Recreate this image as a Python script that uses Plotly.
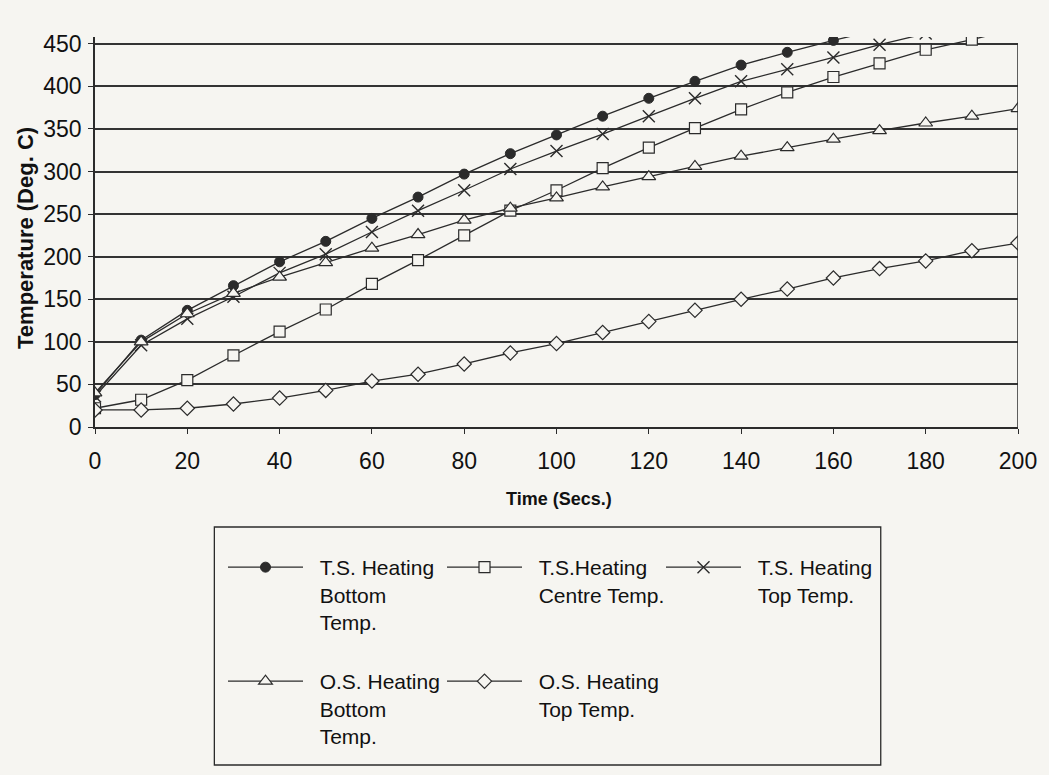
import plotly.graph_objects as go

# Time axis (seconds) and measured temperatures (Deg. C)
time_s = [0, 10, 20, 30, 40, 50, 60, 70, 80, 90, 100,
          110, 120, 130, 140, 150, 160, 170, 180, 190, 200]

ts_bottom = [38, 102, 137, 166, 194, 218, 245, 270, 297, 321, 343,
             365, 386, 406, 425, 440, 454, 467]
ts_centre = [22, 32, 55, 84, 112, 138, 168, 196, 225, 254, 278,
             304, 328, 351, 373, 393, 411, 427, 443, 455, 468]
ts_top = [36, 96, 127, 153, 181, 203, 229, 254, 278, 303, 324,
          344, 365, 386, 406, 420, 434, 449, 462]
os_bottom = [40, 100, 133, 157, 176, 193, 210, 226, 243, 257, 269,
             282, 294, 306, 318, 328, 338, 348, 357, 365, 374]
os_top = [20, 20, 22, 27, 34, 43, 54, 62, 74, 87, 98,
          111, 124, 137, 150, 162, 175, 186, 195, 207, 216]

series_names = [
    ["T.S. Heating", "Bottom", "Temp."],
    ["T.S.Heating", "Centre Temp."],
    ["T.S. Heating", "Top Temp."],
    ["O.S. Heating", "Bottom", "Temp."],
    ["O.S. Heating", "Top Temp."],
]

x_ticks = list(range(0, 201, 20))
y_ticks = list(range(0, 451, 50))

INK = "#2b2b2b"
PAPER = "#f6f5f1"
FONT = "Liberation Sans, Arial, sans-serif"

fig = go.Figure()

styles = [
    (ts_bottom, dict(symbol="circle", size=10, color=INK, line=dict(color=INK, width=1)), "legend"),
    (ts_centre, dict(symbol="square", size=11, color=PAPER, line=dict(color=INK, width=1.2)), "legend"),
    (ts_top, dict(symbol="x-thin-open", size=12, color=INK, line=dict(color=INK, width=1.4)), "legend"),
    (os_bottom, dict(symbol="triangle-up", size=12, color=PAPER, line=dict(color=INK, width=1.2)), "legend2"),
    (os_top, dict(symbol="diamond", size=11, color=PAPER, line=dict(color=INK, width=1.2)), "legend2"),
]

# a small indent separates each legend label from its line sample
INDENT = "\u00a0\u00a0"

for (vals, marker, lg), lines in zip(styles, series_names):
    fig.add_trace(go.Scatter(
        x=time_s[:len(vals)], y=vals,
        name="<br>".join(INDENT + s for s in lines),
        mode="lines+markers",
        line=dict(color=INK, width=1.3), marker=marker, legend=lg,
    ))

# right-hand border of the plot area
fig.add_shape(type="line", xref="x", yref="y", x0=200, x1=200, y0=0, y1=450,
              line=dict(color=INK, width=1.5), layer="above")

# legend frame
fig.add_shape(type="rect", xref="paper", yref="paper",
              x0=(215 - 95) / 928, x1=(885 - 95) / 928,
              y0=(427 - 765) / 390, y1=(427 - 527) / 390,
              line=dict(color=INK, width=1.3), fillcolor="rgba(0,0,0,0)")

fig.add_annotation(text="<b>Temperature (Deg. C)</b>", textangle=-90,
                   xref="paper", yref="paper", x=(11 - 95) / 928, y=(427 - 238) / 390,
                   showarrow=False, font=dict(family=FONT, size=22, color="#111"))
fig.add_annotation(text="<b>Time (Secs.)</b>",
                   xref="paper", yref="paper", x=(562 - 95) / 928, y=(427 - 511) / 390,
                   showarrow=False, font=dict(family=FONT, size=18, color="#111"))

legend_common = dict(
    orientation="h", xref="container", yref="container", xanchor="left", yanchor="top",
    bgcolor="rgba(0,0,0,0)", borderwidth=0, itemwidth=75, valign="top",
    entrywidth=129, entrywidthmode="pixels", itemclick=False, itemdoubleclick=False,
    font=dict(family=FONT, size=21, color="#111"), tracegroupgap=0,
)

fig.update_layout(
    width=1049, height=775,
    margin=dict(l=95, r=26, t=37, b=348),
    paper_bgcolor=PAPER, plot_bgcolor=PAPER,
    showlegend=True,
    legend=dict(x=223 / 1049, y=1 - 547 / 775, **legend_common),
    legend2=dict(x=223 / 1049, y=1 - 661 / 775, **legend_common),
    xaxis=dict(
        range=[0, 200], tickvals=x_ticks, ticktext=[str(v) for v in x_ticks],
        showgrid=False, zeroline=False, showline=True, linecolor=INK, linewidth=1.5,
        ticks="outside", ticklen=5, tickcolor=INK, ticklabelstandoff=8,
        tickfont=dict(family=FONT, size=23, color="#111"),
    ),
    yaxis=dict(
        range=[0, 458], tickvals=y_ticks, ticktext=[str(v) for v in y_ticks],
        showgrid=True, gridcolor="#333333", gridwidth=1.6, zeroline=False,
        showline=True, linecolor=INK, linewidth=1.5,
        ticks="outside", ticklen=5, tickcolor=INK, ticklabelstandoff=2,
        tickfont=dict(family=FONT, size=23, color="#111"),
    ),
)

fig.write_html("out.html")
